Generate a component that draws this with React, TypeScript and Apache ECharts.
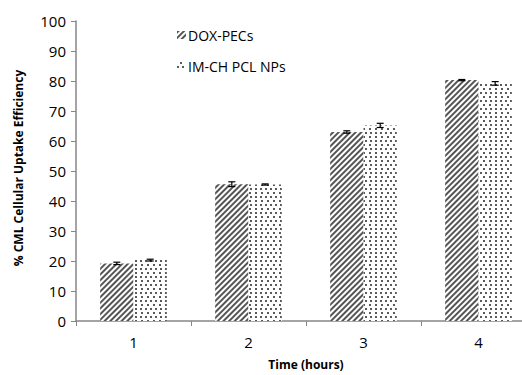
import React, { useEffect, useRef } from "react";
import * as echarts from "echarts";

const categories = ["1", "2", "3", "4"];
const seriesNames = ["DOX-PECs", "IM-CH PCL NPs"];
const doxValues = [19.2, 45.6, 63.0, 80.3];
const doxErrors = [0.4, 0.8, 0.4, 0.2];
const imValues = [20.3, 45.5, 65.2, 79.2];
const imErrors = [0.3, 0.2, 0.7, 0.6];
const yTicks = [0, 10, 20, 30, 40, 50, 60, 70, 80, 90, 100];

const FONT = "'Open Sans', sans-serif";
const BAR_FRACTION = 0.58;

const hatchDecal = {
  symbol: "rect",
  symbolSize: 1,
  color: "#555555",
  backgroundColor: "#ffffff",
  dashArrayX: [1, 0],
  dashArrayY: [1.6, 2],
  rotation: -Math.PI / 4,
};

const dotDecal = {
  symbol: "rect",
  symbolSize: 1,
  color: "#5a5a5a",
  backgroundColor: "#ffffff",
  dashArrayX: [
    [1.6, 2.8],
    [0, 2.2, 1.6, 0.6],
  ],
  dashArrayY: [1.6, 1.2],
  rotation: 0,
};

function errorSeries(values: number[], errors: number[], side: number) {
  const data = values.map((v, i) => [i, v, errors[i]]);
  return {
    type: "custom",
    silent: true,
    z: 10,
    data,
    renderItem: (params: any, api: any) => {
      const idx = api.value(0);
      const val = api.value(1);
      const err = api.value(2);
      const band = api.size([1, 0])[0];
      const barW = (band * BAR_FRACTION) / 2;
      const c = api.coord([idx, val]);
      const x = c[0] + side * barW / 2;
      const top = api.coord([idx, val + err])[1];
      const bot = api.coord([idx, val - err])[1];
      const cap = 3.5;
      const style = { stroke: "#000", lineWidth: 1.2 };
      return {
        type: "group",
        children: [
          { type: "line", shape: { x1: x, y1: top, x2: x, y2: bot }, style },
          { type: "line", shape: { x1: x - cap, y1: top, x2: x + cap, y2: top }, style },
          { type: "line", shape: { x1: x - cap, y1: bot, x2: x + cap, y2: bot }, style },
        ],
      };
    },
  };
}

export default function App() {
  const ref = useRef<HTMLDivElement>(null);
  useEffect(() => {
    if (!ref.current) return;
    const chart = echarts.init(ref.current, undefined, { renderer: "svg" });
    chart.setOption({
      animation: false,
      backgroundColor: "#ffffff",
      textStyle: { fontFamily: FONT },
      legend: {
        orient: "vertical",
        left: 172,
        top: 23,
        itemWidth: 9,
        itemHeight: 8,
        itemGap: 17,
        icon: "rect",
        data: seriesNames,
        textStyle: { fontFamily: FONT, fontSize: 14, color: "#000", padding: [0, 0, 0, -3] },
      },
      grid: { left: 76, right: 0, top: 21, bottom: 54, containLabel: false },
      xAxis: {
        type: "category",
        data: categories,
        name: "Time (hours)",
        nameLocation: "middle",
        nameGap: 37,
        nameTextStyle: { fontFamily: FONT, fontSize: 12, fontWeight: "bold", color: "#000" },
        axisLine: { lineStyle: { color: "#868686", width: 1.5 } },
        axisTick: { show: true, alignWithLabel: false, length: 5, lineStyle: { color: "#868686" } },
        axisLabel: { fontFamily: FONT, fontSize: 15, color: "#000", margin: 13 },
      },
      yAxis: {
        type: "value",
        min: yTicks[0],
        max: yTicks[yTicks.length - 1],
        interval: 10,
        name: "% CML Cellular Uptake Efficiency",
        nameLocation: "middle",
        nameGap: 52,
        nameTextStyle: { fontFamily: FONT, fontSize: 12, fontWeight: "bold", color: "#000", padding: [0, 0, 0, 6] },
        splitLine: { show: false },
        axisLine: { show: true, lineStyle: { color: "#868686", width: 1.5 } },
        axisTick: { show: true, length: 5, lineStyle: { color: "#868686" } },
        axisLabel: { fontFamily: FONT, fontSize: 15, color: "#000", margin: 10 },
      },
      series: [
        {
          name: seriesNames[0],
          type: "bar",
          data: doxValues,
          barGap: "0%",
          barCategoryGap: `${Math.round((1 - BAR_FRACTION) * 100)}%`,
          itemStyle: { color: "#ffffff", decal: hatchDecal },
        },
        {
          name: seriesNames[1],
          type: "bar",
          data: imValues,
          barGap: "0%",
          barCategoryGap: `${Math.round((1 - BAR_FRACTION) * 100)}%`,
          itemStyle: { color: "#ffffff", decal: dotDecal },
        },
        errorSeries(doxValues, doxErrors, -1),
        errorSeries(imValues, imErrors, 1),
      ],
    });
    return () => chart.dispose();
  }, []);
  return (
    <div style={{ position: "absolute", left: 0, top: 0, width: 522, height: 375, overflow: "hidden", background: "#fff" }}>
      <div ref={ref} style={{ width: 536, height: 375 }} />
    </div>
  );
}
